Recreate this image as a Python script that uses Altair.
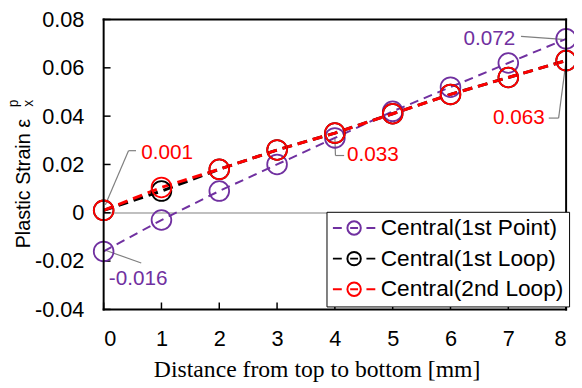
import altair as alt
import pandas as pd

# ---- data ----
x_vals = [0, 1, 2, 3, 4, 5, 6, 7, 8]
first_point = [-0.016, -0.003, 0.009, 0.020, 0.031, 0.042, 0.052, 0.062, 0.072]
first_loop = [0.001, 0.009, 0.018, 0.026, 0.033, 0.041, 0.049, 0.056, 0.063]
second_loop = [0.001, 0.0105, 0.018, 0.026, 0.033, 0.041, 0.049, 0.056, 0.063]
series_names = ["Central(1st Point)", "Central(1st Loop)", "Central(2nd Loop)"]
series_colors = ["#7030A0", "#000000", "#FF0000"]

ann_text = ["0.001", "-0.016", "0.033", "0.072", "0.063"]
ann_x = [0.65, 0.09, 4.21, 7.12, 7.63]
ann_y = [0.0249, -0.0273, 0.0237, 0.0718, 0.0392]
ann_color = ["#FF0000", "#7030A0", "#FF0000", "#7030A0", "#FF0000"]
ann_align = ["left", "left", "left", "right", "right"]

lead_x = [0.03, 0.43, 0.03, 4.0, 4.01, 7.22, 8.0, 7.87]
lead_y = [0.0033, 0.0257, -0.0155, 0.031, 0.0237, 0.073, 0.063, 0.0392]
lead_x2 = [0.43, 0.56, 0.65, 4.01, 4.16, 7.94, 7.87, 7.70]
lead_y2 = [0.0257, 0.0257, -0.0208, 0.0237, 0.0237, 0.0718, 0.0392, 0.0392]

y_ticks = [-0.04, -0.02, 0, 0.02, 0.04, 0.06, 0.08]

rows = []
for name, vals in zip(series_names, [first_point, first_loop, second_loop]):
    for xv, yv in zip(x_vals, vals):
        rows.append({"x": xv, "y": yv, "series": name})
df = pd.DataFrame(rows)

ann_df = pd.DataFrame({"t": ann_text, "x": ann_x, "y": ann_y, "c": ann_color, "a": ann_align})
lead_df = pd.DataFrame({"x": lead_x, "y": lead_y, "x2": lead_x2, "y2": lead_y2})
xt_df = pd.DataFrame({"x": x_vals})
yt_df = pd.DataFrame({"y": y_ticks})

W, H = 469, 294
xscale = alt.Scale(domain=[0, 8], nice=False, zero=False)
yscale = alt.Scale(domain=[-0.04, 0.08], nice=False, zero=False)

xaxis = alt.Axis(values=x_vals, title="Distance from top to bottom [mm]", grid=False, ticks=False,
                 domain=False, labelFontSize=22, labelFont="Liberation Sans", labelColor="#000",
                 labelPadding=20, titleFont="Liberation Serif", titleFontSize=24,
                 titleFontWeight="normal", titleColor="#000", titlePadding=8, titleX=216)
yaxis = alt.Axis(values=y_ticks, title="Plastic Strain  ε", grid=False, ticks=False, domain=False,
                 labelFontSize=22, labelFont="Liberation Sans", labelColor="#000", labelPadding=20,
                 labelExpr="datum.value == 0 ? '0' : replace(format(datum.value, '.2f'), '\u2212', '-')",
                 titleFont="Liberation Sans", titleFontSize=20, titleFontWeight="normal",
                 titleColor="#000", titleX=-81, titleY=166, titleBaseline="middle", titleAngle=270)

base = alt.Chart(df)

zero_line = alt.Chart(xt_df).mark_rule(color="#BFBFBF", strokeWidth=1.5).encode(
    x=alt.datum(0, scale=xscale, axis=xaxis), x2=alt.datum(8), y=alt.datum(0, scale=yscale, axis=yaxis)
)

dash_cfg = {
    series_names[0]: dict(strokeDash=[9, 6], strokeWidth=2),
    series_names[1]: dict(strokeDash=[10, 6], strokeWidth=3),
    series_names[2]: dict(strokeDash=[10, 6], strokeWidth=3),
}
line_layers = []
for name, col in zip(series_names, series_colors):
    line_layers.append(
        base.transform_filter(alt.datum.series == name).mark_line(color=col, **dash_cfg[name]).encode(
            x=alt.X("x:Q", scale=xscale, axis=xaxis), y=alt.Y("y:Q", scale=yscale, axis=yaxis)
        )
    )

# legend glyph "-⊖-" in units of 10px, starting at the entry's left edge
legend_path = ("M-1,0L-0.1,0M2.4,0L3.3,0"
               "M0.47,0A0.68,0.68 0 1,1 1.83,0A0.68,0.68 0 1,1 0.47,0"
               "M0.75,0L1.55,0")

points = base.mark_point(shape="circle", filled=False, size=400, strokeWidth=1.8, opacity=1).encode(
    x=alt.X("x:Q", scale=xscale, axis=xaxis),
    y=alt.Y("y:Q", scale=yscale, axis=yaxis),
    color=alt.Color("series:N", scale=alt.Scale(domain=series_names, range=series_colors),
                    sort=series_names,
                    legend=alt.Legend(title=None, orient="none", legendX=226, legendY=195,
                                      symbolType=legend_path, symbolSize=400, symbolStrokeWidth=2,
                                      labelFontSize=23, labelFont="Liberation Sans", labelColor="#000",
                                      labelLimit=400, fillColor="white", strokeColor="#000",
                                      padding=5, rowPadding=7, labelOffset=27)),
    order=alt.Order("sidx:Q"),
).transform_calculate(sidx="indexof(['" + "','".join(series_names) + "'], datum.series)")

y_tick_rules = alt.Chart(yt_df).mark_rule(color="#000", strokeWidth=1.5).encode(
    y=alt.Y("y:Q", scale=yscale, axis=yaxis), x=alt.value(0), x2=alt.value(7)
)
x_tick_rules = alt.Chart(xt_df).mark_rule(color="#000", strokeWidth=1.5).encode(
    x=alt.X("x:Q", scale=xscale, axis=xaxis), y=alt.value(H), y2=alt.value(H - 7)
)

frame_h = alt.Chart(pd.DataFrame({"k": [0, H]})).mark_rule(color="#000", strokeWidth=2).encode(
    x=alt.value(-1), x2=alt.value(W + 1), y=alt.Y("k:Q", scale=None, axis=None)
)
frame_v = alt.Chart(pd.DataFrame({"k": [0, W]})).mark_rule(color="#000", strokeWidth=2).encode(
    y=alt.value(-1), y2=alt.value(H + 1), x=alt.X("k:Q", scale=None, axis=None)
)

leaders = alt.Chart(lead_df).mark_rule(color="#7F7F7F", strokeWidth=1.2).encode(
    x=alt.X("x:Q", scale=xscale, axis=xaxis), y=alt.Y("y:Q", scale=yscale, axis=yaxis),
    x2="x2:Q", y2="y2:Q"
)

ann_layers = []
for al in ["left", "right"]:
    ann_layers.append(
        alt.Chart(ann_df).transform_filter(alt.datum.a == al).mark_text(
            align=al, baseline="middle", fontSize=21, font="Liberation Sans"
        ).encode(
            x=alt.X("x:Q", scale=xscale, axis=xaxis), y=alt.Y("y:Q", scale=yscale, axis=yaxis),
            text="t:N", color=alt.Color("c:N", scale=None)
        )
    )

# superscript p / subscript x of the y-axis title symbol
sup_df = pd.DataFrame({"t": ["p", "x"]})
sup_p = alt.Chart(sup_df).transform_filter(alt.datum.t == "p").mark_text(
    angle=270, fontSize=14, font="Liberation Sans", color="#000", align="center", baseline="middle"
).encode(text="t:N", x=alt.value(-91), y=alt.value(85))
sub_x = alt.Chart(sup_df).transform_filter(alt.datum.t == "x").mark_text(
    angle=270, fontSize=14, font="Liberation Sans", color="#000", align="center", baseline="middle"
).encode(text="t:N", x=alt.value(-76), y=alt.value(85))

chart = alt.layer(
    zero_line, y_tick_rules, x_tick_rules, leaders, *line_layers, points, *ann_layers,
    frame_h, frame_v, sup_p, sub_x
).properties(
    width=W, height=H,
    autosize=alt.AutoSizeParams(type="none"),
    padding={"left": 97, "top": 9, "right": 8, "bottom": 75},
).configure(background="white").configure_view(stroke=None)

chart.save("out.html", embed_options={"renderer": "svg", "actions": False})
